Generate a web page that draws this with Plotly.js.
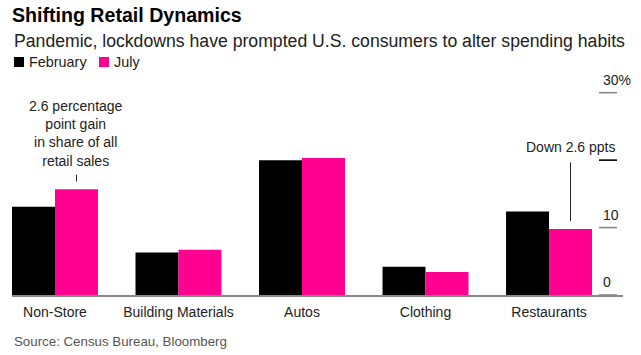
<!DOCTYPE html>
<html>
<head>
<meta charset="utf-8">
<script src="https://cdn.plot.ly/plotly-3.0.1.min.js"></script>
<style>html,body{margin:0;padding:0;background:#fff;}#chart{width:641px;height:355px;}</style>
</head>
<body>
<div id="chart"></div>
<script>
const categories = ["Non-Store", "Building Materials", "Autos", "Clothing", "Restaurants"];
const february = [13.1, 6.3, 20.0, 4.2, 12.4];
const july = [15.7, 6.7, 20.3, 3.4, 9.8];
const seriesNames = ["February", "July"];
const yTickVals = [0, 10, 20, 30];
const yTickText = ["0", "10", "", "30%"];

const FONT = "Liberation Sans, Arial, Helvetica, sans-serif";
const BLACK = "#000000";
const PINK = "#ff0090";
const seriesColors = [BLACK, PINK];
const bargap = 0.304;
const julyOffset = (1 - bargap) / 4;
const catIdx = name => categories.indexOf(name);

const W = 641, H = 355, M = {l: 12, r: 18, t: 90, b: 60};
const pw = W - M.l - M.r, ph = H - M.t - M.b;
const px2x = p => (p - M.l) / pw;
const px2y = p => (H - M.b - p) / ph;

const traces = [
  {type: "bar", name: seriesNames[0], x: categories, y: february, marker: {color: seriesColors[0]}, hoverinfo: "none"},
  {type: "bar", name: seriesNames[1], x: categories, y: july, marker: {color: seriesColors[1]}, hoverinfo: "none"}
];

const annotations = [];
const shapes = [];
yTickVals.forEach((v, i) => {
  if (yTickText[i]) {
    annotations.push({xref: "paper", yref: "y", x: px2x(601), y: v, xanchor: "left", yanchor: "bottom",
      yshift: 3, text: yTickText[i], showarrow: false, font: {family: FONT, size: 14, color: "#222"}});
  }
  shapes.push({type: "line", xref: "paper", yref: "y", x0: px2x(599), x1: px2x(617), y0: v, y1: v,
    line: {color: v === 20 ? "#000" : "#888", width: 1.6}});
});

// legend (swatch + label)
const legendPos = [{sw: 14, tx: 27}, {sw: 99, tx: 112}];
seriesNames.forEach((name, i) => {
  shapes.push({type: "rect", xref: "paper", yref: "paper",
    x0: px2x(legendPos[i].sw), x1: px2x(legendPos[i].sw + 10), y0: px2y(67), y1: px2y(57),
    fillcolor: seriesColors[i], line: {width: 0}});
  annotations.push({xref: "paper", yref: "paper", x: px2x(legendPos[i].tx), y: px2y(62),
    xanchor: "left", yanchor: "middle", text: name, showarrow: false,
    font: {family: FONT, size: 14.4, color: "#222"}});
});

annotations.push({
  xref: "x", yref: "y", x: catIdx("Non-Store") + julyOffset, y: july[catIdx("Non-Store")],
  text: "2.6 percentage<br>point gain<br>in share of all<br>retail sales",
  showarrow: true, arrowhead: 0, arrowwidth: 1, arrowcolor: "#222", ax: 0, ay: -56,
  standoff: 7.6, startstandoff: 4.5, font: {family: FONT, size: 14, color: "#222"}
});
annotations.push({
  xref: "x", yref: "y", x: catIdx("Restaurants") + julyOffset, y: july[catIdx("Restaurants")],
  text: "Down 2.6 ppts",
  showarrow: true, arrowhead: 0, arrowwidth: 1, arrowcolor: "#222", ax: 0, ay: -82,
  standoff: 8, startstandoff: 6, font: {family: FONT, size: 14, color: "#222"}
});
annotations.push({
  xref: "paper", yref: "paper", x: 0, y: px2y(41), xanchor: "left", yanchor: "middle",
  text: "Pandemic, lockdowns have prompted U.S. consumers to alter spending habits", showarrow: false,
  font: {family: FONT, size: 17.65, color: "#222"}
});
annotations.push({
  xref: "paper", yref: "paper", x: 0, y: px2y(341), xanchor: "left", yanchor: "middle",
  text: "Source: Census Bureau, Bloomberg", showarrow: false,
  font: {family: FONT, size: 13.3, color: "#555"}
});

const layout = {
  width: W, height: H,
  margin: M,
  paper_bgcolor: "#fff", plot_bgcolor: "#fff",
  font: {family: FONT, size: 14, color: "#222"},
  title: {
    text: "<b>Shifting Retail Dynamics</b>",
    font: {family: FONT, size: 19.6, color: "#000"},
    xref: "container", yref: "container", x: 12 / W, xanchor: "left", y: 0.976, yanchor: "top"
  },
  barmode: "group", bargap: bargap, bargroupgap: 0,
  showlegend: false,
  xaxis: {type: "category", range: [-0.348, 4.599], showline: true, linecolor: "#888", linewidth: 1.5,
    ticks: "", showgrid: false, zeroline: false, ticklabelstandoff: 4,
    tickfont: {family: FONT, size: 14, color: "#222"}, fixedrange: true},
  yaxis: {range: [0, 30.4], showgrid: false, zeroline: false, showticklabels: false, ticks: "",
    showline: false, fixedrange: true},
  annotations: annotations,
  shapes: shapes
};

Plotly.newPlot("chart", traces, layout, {staticPlot: true, displayModeBar: false});
</script>
</body>
</html>
